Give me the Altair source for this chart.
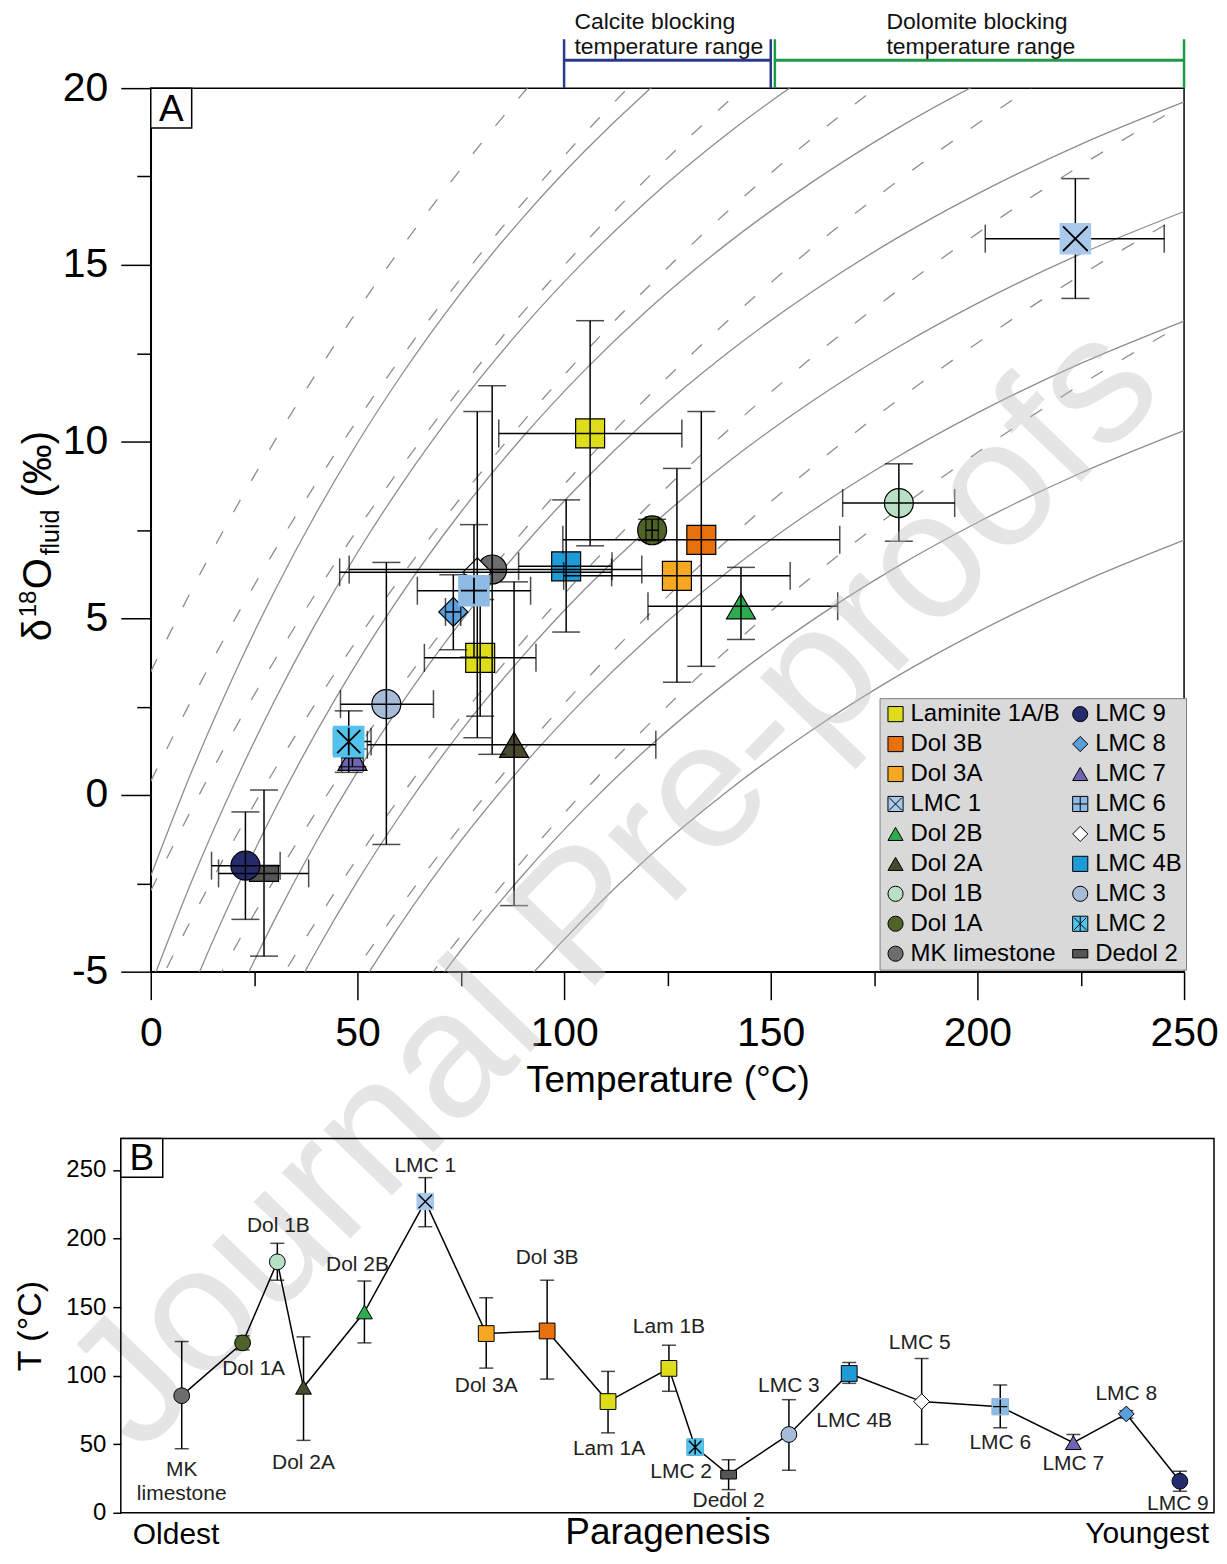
import altair as alt
import pandas as pd

FONT = "Liberation Sans"

# ---------------- Panel A : samples (drawing order) ----------------
a_name = ["Dedol 2", "LMC 9", "LMC 7", "LMC 2", "LMC 3", "LMC 8", "MK limestone",
          "LMC 5", "LMC 6", "Laminite 1A", "Laminite 1B", "LMC 4B", "Dol 2A",
          "Dol 3A", "Dol 3B", "Dol 1A", "Dol 2B", "Dol 1B", "LMC 1"]
a_key = ["Dedol 2", "LMC 9", "LMC 7", "LMC 2", "LMC 3", "LMC 8", "MK limestone",
         "LMC 5", "LMC 6", "Laminite 1A/B", "Laminite 1A/B", "LMC 4B", "Dol 2A",
         "Dol 3A", "Dol 3B", "Dol 1A", "Dol 2B", "Dol 1B", "LMC 1"]
a_T    = [27.4, 22.9, 48.8, 47.9, 57.0, 73.2, 82.6, 79.0, 78.2, 79.7, 106.3, 100.5, 87.9, 127.3, 133.2, 121.3, 142.8, 181.0, 223.7]
a_T_lo = [16.4, 14.7, 46.2, 44.2, 45.9, 71.3, 48.0, 45.7, 64.5, 66.2, 84.2, 89.0, 52.4, 99.9, 99.7, 119.8, 120.3, 167.4, 201.9]
a_T_hi = [38.2, 31.3, 51.4, 53.3, 68.4, 75.0, 118.8, 111.5, 91.9, 93.2, 128.5, 111.6, 122.2, 154.7, 166.7, 122.8, 166.2, 194.5, 245.2]
a_d    = [-2.22, -2.00, 1.05, 1.51, 2.57, 5.18, 6.38, 6.30, 5.78, 3.88, 10.23, 6.47, 1.42, 6.20, 7.22, 7.49, 5.34, 8.26, 15.74]
a_d_lo = [-4.56, -3.52, 0.80, 0.64, -1.40, 4.11, 1.15, 1.62, 3.90, 2.23, 7.05, 4.61, -3.13, 3.19, 3.64, 7.20, 4.40, 7.18, 14.05]
a_d_hi = [0.14, -0.48, 1.30, 2.38, 6.58, 6.23, 11.58, 10.85, 7.65, 5.53, 13.42, 8.35, 6.03, 9.24, 10.85, 7.80, 6.44, 9.37, 17.44]

# ---------------- background fractionation curves ----------------
curve_T = [0, 10, 20, 30, 40, 50, 60, 75, 90, 105, 120, 140, 160, 180, 200, 225, 250]
solid_ref = [-23.99, -21.01, -18.34, -15.92, -13.73, -11.74, -9.93, -7.50, -5.37, -3.48, -1.80,
             0.15, 1.84, 3.32, 4.61, 6.01, 7.21]
solid_shift = [0.0, 3.1, 6.2, 9.3, 12.4, 15.5, 18.6, 21.7]
dashed_ref = [-18.21, -15.88, -13.70, -11.68, -9.78, -7.99, -6.32, -3.99, -1.85, 0.12, 1.94,
              4.16, 6.18, 8.01, 9.69, 11.61, 13.34]
dashed_shift = [0.0, 3.1, 6.2, 9.3, 12.4, 15.5, 18.6, 21.7]

# ---------------- blocking temperature ranges ----------------
block_line1 = ["Calcite blocking", "Dolomite blocking"]
block_line2 = ["temperature range", "temperature range"]
block_lo = [100, 151]
block_hi = [150, 250]
block_text_T = [102.5, 178.0]

# ---------------- Panel B : paragenesis ----------------
b_label = ["MK\nlimestone", "Dol 1A", "Dol 1B", "Dol 2A", "Dol 2B", "LMC 1", "Dol 3A", "Dol 3B",
           "Lam 1A", "Lam 1B", "LMC 2", "Dedol 2", "LMC 3", "LMC 4B", "LMC 5", "LMC 6",
           "LMC 7", "LMC 8", "LMC 9"]
b_key = ["MK limestone", "Dol 1A", "Dol 1B", "Dol 2A", "Dol 2B", "LMC 1", "Dol 3A", "Dol 3B",
         "Laminite 1A/B", "Laminite 1A/B", "LMC 2", "Dedol 2", "LMC 3", "LMC 4B", "LMC 5",
         "LMC 6", "LMC 7", "LMC 8", "LMC 9"]
b_pos = [1.0, 2.0, 2.57, 3.0, 4.0, 5.0, 6.0, 7.0, 8.0, 9.0, 9.43, 9.98, 10.97, 11.96, 13.15,
         14.44, 15.64, 16.51, 17.39]
b_T  = [85.4, 123.9, 183.0, 91.5, 146.4, 227.0, 130.7, 132.6, 81.1, 105.3, 47.9, 27.8, 57.1,
        101.6, 81.1, 77.4, 51.1, 72.1, 23.0]
b_lo = [46.7, 118.8, 169.6, 52.8, 123.9, 208.6, 105.5, 97.5, 58.3, 88.6, 44.3, 16.9, 31.0,
        94.4, 49.9, 62.0, 46.7, 69.0, 15.7]
b_hi = [124.9, 129.0, 196.5, 128.3, 169.0, 244.4, 156.8, 169.6, 103.1, 122.2, 52.3, 38.7, 82.5,
        109.6, 112.5, 93.2, 57.1, 74.5, 30.3]

# ---------------- styles ----------------
KEYS = ["Laminite 1A/B", "Dol 3B", "Dol 3A", "LMC 1", "Dol 2B", "Dol 2A", "Dol 1B", "Dol 1A",
        "MK limestone", "LMC 9", "LMC 8", "LMC 7", "LMC 6", "LMC 5", "LMC 4B", "LMC 3",
        "LMC 2", "Dedol 2"]
GX = "M-0.85,-0.85L0.85,0.85 M-0.85,0.85L0.85,-0.85"
GP = "M-0.9,0L0.9,0 M0,-0.9L0,0.9"
GA = "M-0.8,-0.8L0.8,0.8 M-0.8,0.8L0.8,-0.8 M0,-0.95L0,0.95"
SQ = "M-1,-1L1,-1L1,1L-1,1Z "
RECT = "M-1,-0.55L1,-0.55L1,0.55L-1,0.55Z"
STYLE = {
    "Laminite 1A/B": ("#dfdc1b", "square"),
    "Dol 3B": ("#e8700d", "square"),
    "Dol 3A": ("#f7a823", "square"),
    "LMC 1": ("#a9c8ec", SQ + GX),
    "Dol 2B": ("#2eaa4f", "triangle-up"),
    "Dol 2A": ("#4a4930", "triangle-up"),
    "Dol 1B": ("#b8e0c4", "circle"),
    "Dol 1A": ("#4f6328", "circle"),
    "MK limestone": ("#6d6d6d", "circle"),
    "LMC 9": ("#262b6b", "circle"),
    "LMC 8": ("#5a9fdc", "diamond"),
    "LMC 7": ("#6e66b3", "triangle-up"),
    "LMC 6": ("#8dbbe4", SQ + GP),
    "LMC 5": ("#ffffff", "diamond"),
    "LMC 4B": ("#1e9bd7", "square"),
    "LMC 3": ("#a6bcd9", "circle"),
    "LMC 2": ("#52c3ee", SQ + GA),
    "Dedol 2": ("#555555", RECT),
}
GLYPH = {"LMC 1": GX, "LMC 6": GP, "LMC 2": GA}   # borderless squares with a black glyph
color_scale = alt.Scale(domain=KEYS, range=[STYLE[k][0] for k in KEYS])
shape_scale = alt.Scale(domain=KEYS, range=[STYLE[k][1] for k in KEYS])

WA, HA = 1035, 885
WB, HB = 1095, 375
CURVE_COLOR = "#8d8d8d"

# ---------------- Panel A ----------------
xsA = alt.Scale(domain=[0, 250], nice=False, zero=False)
ysA = alt.Scale(domain=[-5, 20], nice=False, zero=False)

dfA = pd.DataFrame({"name": a_name, "key": a_key, "T": a_T, "T_lo": a_T_lo, "T_hi": a_T_hi,
                    "d": a_d, "d_lo": a_d_lo, "d_hi": a_d_hi})
dfA["order"] = range(len(dfA))
ovA = dfA[dfA.key.isin(list(GLYPH))].copy()
ovA["bg"] = ovA.key.map(lambda k: STYLE[k][0])
ovA["glyph"] = ovA.key.map(GLYPH)

rows = []
for fam, ref, shifts in (("solid", solid_ref, solid_shift), ("dashed", dashed_ref, dashed_shift)):
    for k, s in enumerate(shifts):
        for t, v in zip(curve_T, ref):
            rows.append({"fam": fam, "curve": f"{fam}{k}", "T": t, "d": round(v + s, 2)})
curves = pd.DataFrame(rows)

minor_x = alt.Axis(orient="bottom", values=[25, 75, 125, 175, 225], tickSize=14, labels=False,
                   domain=False, grid=False, title=None)
minor_y = alt.Axis(orient="left", values=[-2.5, 2.5, 7.5, 12.5, 17.5], tickSize=14, labels=False,
                   domain=False, grid=False, title=None)
major_x = alt.Axis(orient="bottom", values=[0, 50, 100, 150, 200, 250], tickSize=28,
                   labelFontSize=41, labelPadding=14, title="Temperature (°C)", titleFontSize=37,
                   titlePadding=9, grid=False, labelExpr="datum.value + ''", labelFlush=False,
                   labelOverlap=False)
major_y = alt.Axis(orient="left", values=[-5, 0, 5, 10, 15, 20], tickSize=30, labelFontSize=41,
                   labelPadding=13, title=None, grid=False, labelExpr="datum.value + ''",
                   labelFlush=False, labelOverlap=False)

solid = alt.Chart(curves[curves.fam == "solid"]).mark_line(
    clip=True, interpolate="monotone", color=CURVE_COLOR, strokeWidth=1.3
).encode(x=alt.X("T:Q", scale=xsA, axis=minor_x), y=alt.Y("d:Q", scale=ysA, axis=minor_y),
         detail="curve:N")
dashed = alt.Chart(curves[curves.fam == "dashed"]).mark_line(
    clip=True, interpolate="monotone", color=CURVE_COLOR, strokeWidth=1.3, strokeDash=[14, 22]
).encode(x=alt.X("T:Q", scale=xsA, axis=None), y=alt.Y("d:Q", scale=ysA, axis=None),
         detail="curve:N")

legendA = alt.Legend(orient="none", legendX=730, legendY=611, columns=2, title=None,
                     fillColor="#d9d9d9", strokeColor="#7f7f7f", padding=4, labelFontSize=24,
                     symbolSize=230, symbolStrokeColor="black", symbolStrokeWidth=1,
                     rowPadding=6, columnPadding=8, labelOffset=3, labelColor="black",
                     labelLimit=300)

markers = alt.Chart(dfA).mark_point(filled=True, size=841, stroke="black", strokeWidth=1.2,
                                    opacity=1).encode(
    x=alt.X("T:Q", scale=xsA, axis=major_x),
    y=alt.Y("d:Q", scale=ysA, axis=major_y),
    color=alt.Color("key:N", scale=color_scale, legend=legendA),
    shape=alt.Shape("key:N", scale=shape_scale, legend=legendA),
    order="order:Q",
)

h_err = alt.Chart(dfA).mark_rule(color="black", strokeWidth=1.5).encode(
    x=alt.X("T_lo:Q", scale=xsA, axis=None), x2="T_hi:Q", y=alt.Y("d:Q", scale=ysA, axis=None))
v_err = alt.Chart(dfA).mark_rule(color="black", strokeWidth=1.5).encode(
    x=alt.X("T:Q", scale=xsA, axis=None), y=alt.Y("d_lo:Q", scale=ysA, axis=None), y2="d_hi:Q")

capsV = pd.concat([dfA[["T_lo", "d"]].rename(columns={"T_lo": "cx", "d": "cy"}),
                   dfA[["T_hi", "d"]].rename(columns={"T_hi": "cx", "d": "cy"})])
capsH = pd.concat([dfA[["T", "d_lo"]].rename(columns={"T": "cx", "d_lo": "cy"}),
                   dfA[["T", "d_hi"]].rename(columns={"T": "cx", "d_hi": "cy"})])
h_caps = alt.Chart(capsV).mark_tick(orient="vertical", size=28, thickness=1.5, color="black").encode(
    x=alt.X("cx:Q", scale=xsA, axis=None), y=alt.Y("cy:Q", scale=ysA, axis=None))
v_caps = alt.Chart(capsH).mark_tick(orient="horizontal", size=28, thickness=1.5, color="black").encode(
    x=alt.X("cx:Q", scale=xsA, axis=None), y=alt.Y("cy:Q", scale=ysA, axis=None))

# borderless light-blue squares with their black glyph, drawn over the error bars
ov_bg = alt.Chart(ovA).mark_square(size=1000, filled=True, opacity=1, strokeWidth=0).encode(
    x=alt.X("T:Q", scale=xsA, axis=None), y=alt.Y("d:Q", scale=ysA, axis=None),
    fill=alt.Fill("bg:N", scale=None))
ov_gl = alt.Chart(ovA).mark_point(size=841, filled=False, opacity=1, color="black",
                                  strokeWidth=1.8).encode(
    x=alt.X("T:Q", scale=xsA, axis=None), y=alt.Y("d:Q", scale=ysA, axis=None),
    shape=alt.Shape("glyph:N", scale=None))

# blocking-range brackets
BLOCK_COLORS = ["#2b3a8c", "#1f9a4b"]
bracket_layers = []
for i in range(len(block_lo)):
    edges = pd.DataFrame({"T": [block_lo[i], block_hi[i]]})
    span = pd.DataFrame({"lo": [block_lo[i]], "hi": [block_hi[i]], "tx": [block_text_T[i]],
                         "l1": [block_line1[i]], "l2": [block_line2[i]]})
    c = BLOCK_COLORS[i]
    bracket_layers += [
        alt.Chart(edges).mark_rule(color=c, strokeWidth=2.5).encode(
            x=alt.X("T:Q", scale=xsA, axis=None), y=alt.value(-49), y2=alt.value(0)),
        alt.Chart(span).mark_rule(color=c, strokeWidth=3).encode(
            x=alt.X("lo:Q", scale=xsA, axis=None), x2="hi:Q", y=alt.value(-28)),
        alt.Chart(span).mark_text(fontSize=23, color="#111", baseline="alphabetic",
                                  align="left").encode(
            x=alt.X("tx:Q", scale=xsA, axis=None), y=alt.value(-59), text="l1:N"),
        alt.Chart(span).mark_text(fontSize=23, color="#111", baseline="alphabetic",
                                  align="left").encode(
            x=alt.X("tx:Q", scale=xsA, axis=None), y=alt.value(-34), text="l2:N"),
    ]

one = pd.DataFrame({"t": ["A"]})
boxA = alt.Chart(one).mark_rect(fill="white", stroke="black", strokeWidth=1.5).encode(
    x=alt.value(0), x2=alt.value(41), y=alt.value(0), y2=alt.value(40))
textA = alt.Chart(one).mark_text(fontSize=37, baseline="middle", color="black").encode(
    x=alt.value(20.5), y=alt.value(21.5), text="t:N")

# composite y title  δ18O_fluid (‰)
ytitle = pd.DataFrame({
    "txt": ["δ", "18", "O", "fluid", "(‰)"],
    "px": [-100, -115, -100, -92, -100],
    "py": [554, 530, 502, 468, 410],
    "fs": [40, 24, 40, 25, 40],
})
ytitleA = alt.Chart(ytitle).mark_text(angle=270, align="left", baseline="alphabetic",
                                      color="black").encode(
    x=alt.X("px:Q", scale=None, axis=None), y=alt.Y("py:Q", scale=None, axis=None),
    text="txt:N", size=alt.Size("fs:Q", scale=None, legend=None))

wm = pd.DataFrame({"t": ["Journal Pre-proofs"]})
watermark = alt.Chart(wm).mark_text(angle=314, fontSize=180, color="#bfbfbf", opacity=0.4,
                                    align="center", baseline="middle").encode(
    x=alt.value(465), y=alt.value(800), text="t:N")

panelA = alt.layer(solid, dashed, markers, h_err, v_err, h_caps, v_caps, ov_bg, ov_gl,
                   *bracket_layers, boxA, textA, ytitleA, watermark).resolve_axis(
    x="independent", y="independent").properties(width=WA, height=HA)

# ---------------- Panel B ----------------
xsB = alt.Scale(domain=[0, 17.95], nice=False, zero=False)
ysB = alt.Scale(domain=[0, 273], nice=False, zero=False)
dfB = pd.DataFrame({"label": b_label, "key": b_key, "pos": b_pos, "T": b_T, "lo": b_lo, "hi": b_hi})
ovB = dfB[dfB.key.isin(list(GLYPH))].copy()
ovB["bg"] = ovB.key.map(lambda k: STYLE[k][0])
ovB["glyph"] = ovB.key.map(GLYPH)

LABEL_OFFSET = {  # pixel offsets of the labels from their points
    "MK\nlimestone": (0, 86), "Dol 1A": (11, 26), "Dol 1B": (1, -36), "Dol 2A": (0, 76),
    "Dol 2B": (-7, -47), "LMC 1": (0, -36), "Dol 3A": (0, 53), "Dol 3B": (0, -73),
    "Lam 1A": (1, 48), "Lam 1B": (0, -41), "LMC 2": (-14, 25), "Dedol 2": (0, 26),
    "LMC 3": (0, -49), "LMC 4B": (5, 48), "LMC 5": (-2, -59), "LMC 6": (0, 36),
    "LMC 7": (0, 21), "LMC 8": (0, -20), "LMC 9": (-2, 23)}
pxu_x = WB / 17.95
pxu_y = HB / 273
lab_rows = []
for lab, p, t in zip(b_label, b_pos, b_T):
    dx, dy = LABEL_OFFSET[lab]
    lines = lab.split("\n")
    n = len(lines)
    for j, ln in enumerate(lines):
        ddy = dy + (j - (n - 1) / 2) * 24
        lab_rows.append({"txt": ln, "lx": p + dx / pxu_x, "ly": t - ddy / pxu_y})
labB = pd.DataFrame(lab_rows)

axB_x = alt.Axis(title="Paragenesis", labels=False, ticks=False, domain=False, grid=False,
                 titleFontSize=37, titlePadding=2)
axB_y = alt.Axis(values=[0, 50, 100, 150, 200, 250], tickSize=8, labelFontSize=24,
                 labelPadding=7, title="T (°C)", titleFontSize=34, titlePadding=18, grid=False,
                 domain=False, labelFlush=False, labelOverlap=False)

lineB = alt.Chart(dfB).mark_line(color="black", strokeWidth=1.5).encode(
    x=alt.X("pos:Q", scale=xsB, axis=axB_x), y=alt.Y("T:Q", scale=ysB, axis=axB_y))
errB = alt.Chart(dfB).mark_rule(color="black", strokeWidth=1.5).encode(
    x=alt.X("pos:Q", scale=xsB, axis=axB_x), y=alt.Y("lo:Q", scale=ysB, axis=axB_y), y2="hi:Q")
capB = pd.concat([dfB[["pos", "lo"]].rename(columns={"lo": "cy"}),
                  dfB[["pos", "hi"]].rename(columns={"hi": "cy"})])
capsB = alt.Chart(capB).mark_tick(orient="horizontal", size=14, thickness=1.5, color="black").encode(
    x=alt.X("pos:Q", scale=xsB, axis=axB_x), y=alt.Y("cy:Q", scale=ysB, axis=axB_y))
ptsB = alt.Chart(dfB).mark_point(filled=True, size=250, stroke="black", strokeWidth=1,
                                 opacity=1).encode(
    x=alt.X("pos:Q", scale=xsB, axis=axB_x), y=alt.Y("T:Q", scale=ysB, axis=axB_y),
    color=alt.Color("key:N", scale=color_scale, legend=None),
    shape=alt.Shape("key:N", scale=shape_scale, legend=None))
ovB_bg = alt.Chart(ovB).mark_square(size=300, filled=True, opacity=1, strokeWidth=0).encode(
    x=alt.X("pos:Q", scale=xsB, axis=axB_x), y=alt.Y("T:Q", scale=ysB, axis=axB_y),
    fill=alt.Fill("bg:N", scale=None))
ovB_gl = alt.Chart(ovB).mark_point(size=250, filled=False, opacity=1, color="black",
                                   strokeWidth=1.4).encode(
    x=alt.X("pos:Q", scale=xsB, axis=axB_x), y=alt.Y("T:Q", scale=ysB, axis=axB_y),
    shape=alt.Shape("glyph:N", scale=None))
textB = alt.Chart(labB).mark_text(fontSize=21, color="#222", baseline="middle").encode(
    x=alt.X("lx:Q", scale=xsB, axis=axB_x), y=alt.Y("ly:Q", scale=ysB, axis=axB_y), text="txt:N")

oneB = pd.DataFrame({"t": ["B"]})
boxB = alt.Chart(oneB).mark_rect(fill="white", stroke="black", strokeWidth=1.5).encode(
    x=alt.value(0), x2=alt.value(42), y=alt.value(0), y2=alt.value(39))
letterB = alt.Chart(oneB).mark_text(fontSize=37, baseline="middle", color="black").encode(
    x=alt.value(21), y=alt.value(21), text="t:N")
ends = pd.DataFrame({"t": ["Oldest", "Youngest"]})
oldest = alt.Chart(ends.iloc[[0]]).mark_text(fontSize=30, align="left", baseline="alphabetic",
                                             color="black").encode(
    x=alt.value(12), y=alt.value(HB + 31), text="t:N")
youngest = alt.Chart(ends.iloc[[1]]).mark_text(fontSize=30, align="right", baseline="alphabetic",
                                               color="black").encode(
    x=alt.value(WB - 5), y=alt.value(HB + 30), text="t:N")

panelB = alt.layer(lineB, errB, capsB, ptsB, ovB_bg, ovB_gl, textB, boxB, letterB, oldest,
                   youngest).properties(width=WB, height=HB)

chart = alt.vconcat(panelA, panelB, spacing=167, bounds="flush", center=True).resolve_scale(
    color="independent", shape="independent"
).properties(
    padding={"left": 5, "top": 1, "right": 0, "bottom": 0}
).configure(font=FONT).configure_view(stroke="black", strokeWidth=1.5).configure_axis(
    domainColor="black", tickColor="black", labelColor="black", titleColor="black",
    domainWidth=1.5, tickWidth=1.5, grid=False, titleFontWeight="normal")

chart.save("out.html", embed_options={"renderer": "svg", "actions": False})
